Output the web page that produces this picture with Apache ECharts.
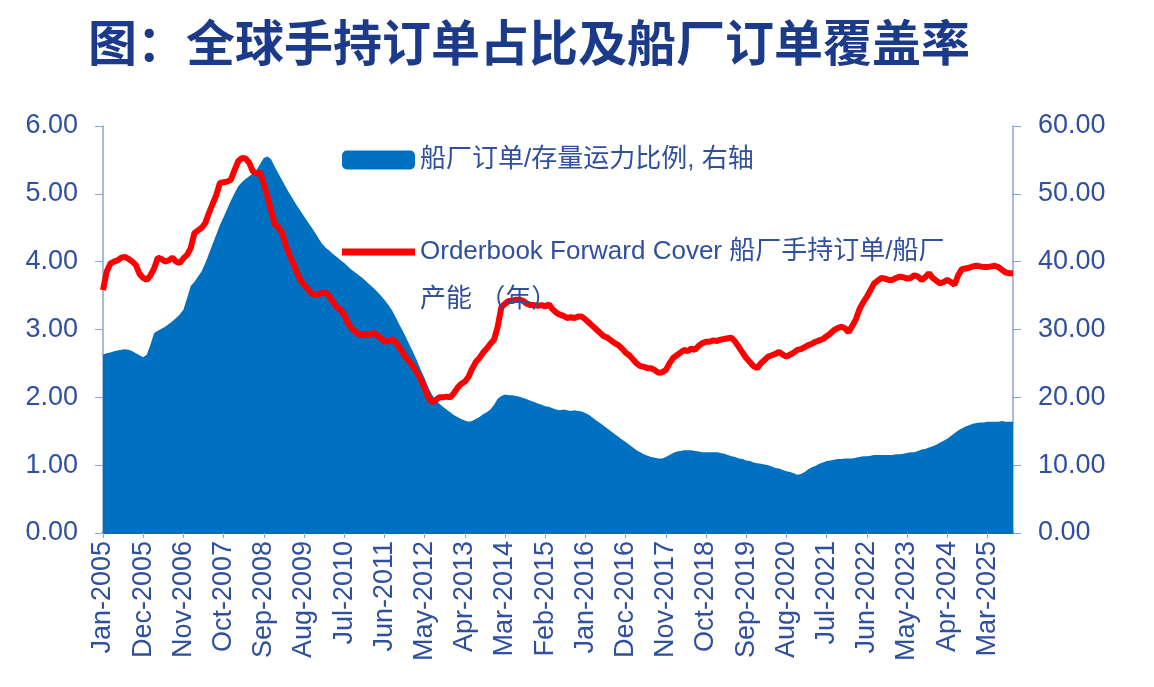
<!DOCTYPE html>
<html>
<head>
<meta charset="utf-8">
<title>全球手持订单占比及船厂订单覆盖率</title>
<script src="https://cdn.jsdelivr.net/npm/echarts@6/dist/echarts.min.js"></script>
<style>
    html, body { margin: 0; padding: 0; background: #fff; }
    #chart { width: 1154px; height: 687px; }
</style>
</head>
<body>
<div id="chart"></div>
<script>
// monthly data, Jan-2005 .. Oct-2025
const monthNames = ['Jan', 'Feb', 'Mar', 'Apr', 'May', 'Jun', 'Jul', 'Aug', 'Sep', 'Oct', 'Nov', 'Dec'];
const startYear = 2005;

// 船厂订单/存量运力比例 (%, right axis)
const orderbookRatio = [
    26.3, 26.5, 26.6, 26.8, 26.9, 27.0, 27.1, 27.0, 26.8, 26.5, 26.2, 25.9,
    26.3, 27.8, 29.5, 29.8, 30.1, 30.4, 30.8, 31.2, 31.7, 32.2, 32.9, 34.6,
    36.4, 37.0, 37.8, 38.6, 39.8, 41.2, 42.6, 44.0, 45.4, 46.6, 47.8, 49.0,
    50.1, 51.1, 51.7, 52.2, 52.6, 53.0, 53.5, 54.4, 55.3, 55.5, 55.1, 54.0,
    53.0, 52.0, 51.0, 50.1, 49.2, 48.3, 47.5, 46.7, 45.9, 45.1, 44.3, 43.4,
    42.6, 42.0, 41.6, 41.1, 40.7, 40.2, 39.8, 39.3, 38.8, 38.4, 38.0, 37.6,
    37.1, 36.6, 36.1, 35.6, 35.0, 34.4, 33.7, 32.9, 31.9, 30.8, 29.8, 28.7,
    27.6, 26.5, 25.3, 24.0, 22.8, 21.5, 20.4, 19.6, 19.1, 18.6, 18.2, 17.8,
    17.4, 17.1, 16.8, 16.6, 16.4, 16.5, 16.8, 17.1, 17.5, 17.8, 18.2, 18.9,
    19.8, 20.2, 20.4, 20.3, 20.3, 20.2, 20.1, 19.9, 19.7, 19.5, 19.3, 19.1,
    18.9, 18.7, 18.6, 18.4, 18.2, 18.1, 18.2, 18.1, 18.0, 18.1, 18.0, 17.9,
    17.7, 17.4, 17.0, 16.6, 16.2, 15.8, 15.4, 15.0, 14.6, 14.2, 13.8, 13.4,
    13.0, 12.6, 12.2, 11.9, 11.6, 11.4, 11.2, 11.1, 11.0, 11.0, 11.2, 11.5,
    11.8, 12.0, 12.1, 12.2, 12.2, 12.2, 12.1, 12.0, 11.9, 11.9, 11.9, 11.9,
    11.9, 11.8, 11.7, 11.5, 11.3, 11.2, 11.0, 10.9, 10.7, 10.6, 10.4, 10.3,
    10.2, 10.1, 10.0, 9.8, 9.6, 9.5, 9.3, 9.1, 9.0, 8.8, 8.6, 8.7,
    9.0, 9.4, 9.7, 9.9, 10.2, 10.4, 10.6, 10.7, 10.8, 10.9, 10.9, 11.0,
    11.0, 11.0, 11.1, 11.2, 11.3, 11.3, 11.4, 11.5, 11.5, 11.5, 11.5, 11.5,
    11.5, 11.6, 11.6, 11.7, 11.8, 11.9, 11.9, 12.1, 12.3, 12.4, 12.6, 12.8,
    13.0, 13.3, 13.6, 13.9, 14.3, 14.7, 15.1, 15.4, 15.7, 15.9, 16.1, 16.2,
    16.3, 16.3, 16.4, 16.4, 16.4, 16.4, 16.5, 16.4, 16.4, 16.4
];

// Orderbook Forward Cover (years, left axis)
const forwardCover = [
    3.58, 3.85, 3.97, 4.00, 4.02, 4.06, 4.07, 4.04, 4.00, 3.95, 3.82, 3.76,
    3.73, 3.80, 3.90, 4.06, 4.04, 4.00, 4.02, 4.06, 4.00, 3.98, 4.05, 4.10,
    4.20, 4.42, 4.46, 4.50, 4.57, 4.72, 4.85, 4.98, 5.16, 5.17, 5.18, 5.21,
    5.35, 5.48, 5.53, 5.52, 5.46, 5.33, 5.30, 5.31, 5.15, 4.96, 4.75, 4.55,
    4.51, 4.42, 4.25, 4.10, 3.98, 3.85, 3.73, 3.66, 3.60, 3.53, 3.51, 3.52,
    3.54, 3.54, 3.48, 3.40, 3.33, 3.29, 3.22, 3.10, 3.02, 2.97, 2.93, 2.92,
    2.93, 2.92, 2.95, 2.92, 2.87, 2.82, 2.83, 2.86, 2.82, 2.74, 2.66, 2.58,
    2.52, 2.44, 2.36, 2.26, 2.14, 2.00, 1.93, 1.96, 2.00, 2.00, 2.01, 2.00,
    2.06, 2.14, 2.20, 2.23, 2.30, 2.42, 2.52, 2.58, 2.66, 2.72, 2.79, 2.85,
    3.04, 3.33, 3.38, 3.42, 3.42, 3.44, 3.44, 3.42, 3.38, 3.36, 3.36, 3.35,
    3.36, 3.34, 3.37, 3.30, 3.25, 3.22, 3.20, 3.17, 3.18, 3.17, 3.19, 3.19,
    3.15, 3.10, 3.05, 3.00, 2.95, 2.90, 2.88, 2.84, 2.80, 2.77, 2.72, 2.66,
    2.62, 2.56, 2.50, 2.46, 2.45, 2.43, 2.43, 2.40, 2.36, 2.37, 2.40, 2.50,
    2.58, 2.62, 2.66, 2.70, 2.68, 2.72, 2.70, 2.76, 2.80, 2.82, 2.82, 2.84,
    2.83, 2.85, 2.86, 2.87, 2.88, 2.82, 2.74, 2.66, 2.58, 2.52, 2.46, 2.43,
    2.50, 2.55, 2.60, 2.62, 2.64, 2.67, 2.63, 2.60, 2.63, 2.66, 2.70, 2.71,
    2.74, 2.77, 2.79, 2.82, 2.84, 2.86, 2.90, 2.94, 2.99, 3.02, 3.04, 3.02,
    2.96, 3.05, 3.15, 3.30, 3.40, 3.48, 3.58, 3.68, 3.72, 3.76, 3.75, 3.73,
    3.73, 3.76, 3.78, 3.77, 3.75, 3.76, 3.80, 3.78, 3.73, 3.77, 3.83, 3.76,
    3.72, 3.68, 3.70, 3.73, 3.70, 3.66, 3.80, 3.89, 3.90, 3.91, 3.93, 3.94,
    3.93, 3.92, 3.92, 3.93, 3.94, 3.92, 3.88, 3.84, 3.83, 3.83
];

const months = orderbookRatio.map((v, i) =>
    monthNames[i % 12] + '-' + (startYear + Math.floor(i / 12)));

const ratioName = '船厂订单/存量运力比例, 右轴';
const coverName = 'Orderbook Forward Cover 船厂手持订单/船厂\n产能 （年）';

const textBlue = '#2f4f9f';
const axisBlue = '#8aa3d4';
const fontFamily = '"Liberation Sans", "Noto Sans CJK SC", sans-serif';

const chart = echarts.init(document.getElementById('chart'));

const option = {
    animation: false,
    backgroundColor: '#ffffff',
    textStyle: { fontFamily: fontFamily },
    title: {
        text: '图：全球手持订单占比及船厂订单覆盖率',
        left: 83,
        top: 13,
        textStyle: {
            fontFamily: '"Noto Sans CJK SC", sans-serif',
            fontSize: 49,
            fontWeight: 'bold',
            color: '#1c3a8a'
        }
    },
    legend: [
        {
            data: [ratioName],
            left: 342,
            top: 145,
            padding: 0,
            icon: 'roundRect',
            itemWidth: 73,
            itemHeight: 19,
            itemGap: 0,
            textStyle: { fontSize: 26, lineHeight: 30, color: textBlue, fontFamily: fontFamily }
        },
        {
            // leading blank line keeps the icon level with the first text line
            data: [coverName],
            formatter: name => '\n' + name,
            left: 342,
            top: 180,
            padding: 0,
            icon: 'rect',
            itemWidth: 73,
            itemHeight: 7,
            textStyle: {
                fontSize: 26,
                lineHeight: 48,
                color: textBlue,
                fontFamily: fontFamily
            }
        }
    ],
    grid: {
        left: 103,
        right: 141,
        top: 126,
        bottom: 154,
        containLabel: false
    },
    xAxis: {
        type: 'category',
        data: months,
        boundaryGap: false,
        axisLine: { lineStyle: { color: '#0070C0', width: 2 } },
        axisTick: { show: true, interval: 10, length: 5, lineStyle: { color: axisBlue } },
        axisLabel: {
            interval: 10,
            rotate: 90,
            margin: 8,
            fontSize: 27,
            color: textBlue
        },
        splitLine: { show: false }
    },
    yAxis: [
        {
            type: 'value',
            min: 0,
            max: 6,
            interval: 1,
            axisLine: { show: true, lineStyle: { color: axisBlue, width: 1.5 } },
            axisTick: { show: true, length: 8, lineStyle: { color: axisBlue } },
            axisLabel: {
                margin: 25,
                fontSize: 27,
                color: textBlue,
                formatter: v => v.toFixed(2)
            },
            splitLine: { show: false }
        },
        {
            type: 'value',
            min: 0,
            max: 60,
            interval: 10,
            axisLine: { show: true, lineStyle: { color: axisBlue, width: 1.5 } },
            axisTick: { show: true, length: 8, lineStyle: { color: axisBlue } },
            axisLabel: {
                margin: 25,
                fontSize: 27,
                color: textBlue,
                formatter: v => v.toFixed(2)
            },
            splitLine: { show: false }
        }
    ],
    series: [
        {
            name: ratioName,
            type: 'line',
            yAxisIndex: 1,
            data: orderbookRatio,
            symbol: 'none',
            color: '#0070C0',
            lineStyle: { width: 0 },
            areaStyle: { color: '#0070C0', opacity: 1 },
            z: 1
        },
        {
            name: coverName,
            type: 'line',
            yAxisIndex: 0,
            data: forwardCover,
            symbol: 'none',
            color: '#ff0000',
            lineStyle: { width: 6, color: '#ff0000' },
            z: 3
        }
    ]
};

chart.setOption(option);
</script>
</body>
</html>
